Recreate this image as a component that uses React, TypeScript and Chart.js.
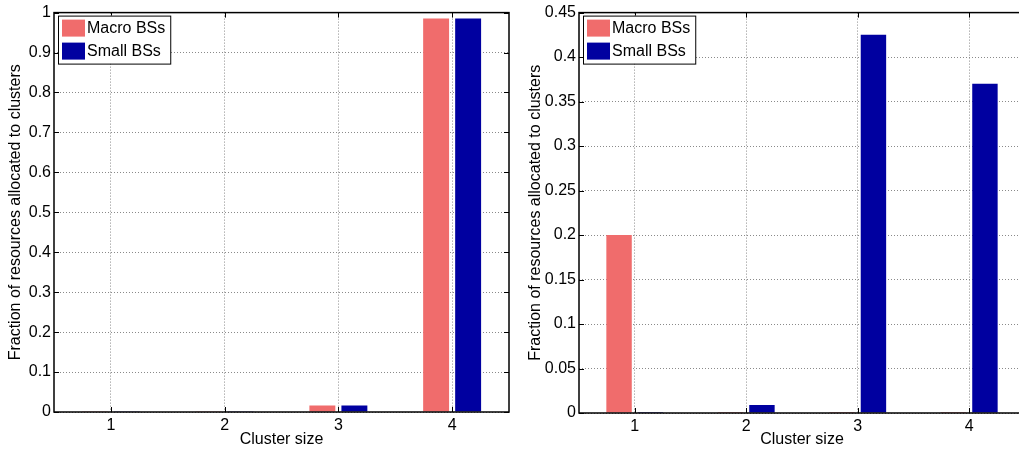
import React, { useEffect, useRef } from 'react';
import { Chart, registerables } from 'chart.js';

Chart.register(...registerables);

const FONT = "'Liberation Sans', Arial, Helvetica, sans-serif";

// ---- data ----
const clusterSizes = ['1', '2', '3', '4'];
const seriesNames = ['Macro BSs', 'Small BSs'];
const seriesColors = ['#F06C6C', '#0000A0'];

const leftMacro = [0.002, 0.002, 0.016, 0.985];
const leftSmall = [0.002, 0.002, 0.016, 0.985];
const leftYMax = 1;
const leftYStep = 0.1;

const rightMacro = [0.2, 0.001, 0.001, 0.001];
const rightSmall = [0.001, 0.009, 0.425, 0.37];
const rightYMax = 0.45;
const rightYStep = 0.05;

const yTitle = 'Fraction of resources allocated to clusters';
const xTitle = 'Cluster size';

const GRID = '#8a8a8a';

const boxPlugin = {
  id: 'matlabBox',
  afterDraw(chart: any) {
    const { ctx, chartArea: a, scales } = chart;
    ctx.save();
    // inward ticks
    ctx.strokeStyle = '#000';
    ctx.lineWidth = 1;
    const ys = scales.y;
    ys.ticks.forEach((t: any) => {
      const y = Math.round(ys.getPixelForValue(t.value)) + 0.5;
      ctx.beginPath();
      ctx.moveTo(a.left, y);
      ctx.lineTo(a.left + 5, y);
      ctx.moveTo(a.right - 5, y);
      ctx.lineTo(a.right, y);
      ctx.stroke();
    });
    const xs = scales.x;
    xs.ticks.forEach((_t: any, i: number) => {
      const x = Math.round(xs.getPixelForTick(i)) + 0.5;
      ctx.beginPath();
      ctx.moveTo(x, a.bottom);
      ctx.lineTo(x, a.bottom - 5);
      ctx.moveTo(x, a.top);
      ctx.lineTo(x, a.top + 5);
      ctx.stroke();
    });
    // box
    ctx.lineWidth = 1.5;
    ctx.strokeRect(a.left, a.top, a.right - a.left, a.bottom - a.top);

    // legend
    ctx.font = `16px ${FONT}`;
    const ds = chart.data.datasets;
    let tw = 0;
    ds.forEach((d: any) => {
      tw = Math.max(tw, ctx.measureText(d.label).width);
    });
    const bx = a.left + 4;
    const by = a.top + 3;
    const bw = 4 + 23 + 2 + tw + 5;
    const bh = 48;
    ctx.fillStyle = '#fff';
    ctx.fillRect(bx, by, bw, bh);
    ctx.lineWidth = 1;
    ctx.strokeStyle = '#000';
    ctx.strokeRect(bx + 0.5, by + 0.5, bw, bh);
    ds.forEach((d: any, i: number) => {
      const sy = by + 4 + i * 23;
      ctx.fillStyle = d.backgroundColor;
      ctx.fillRect(bx + 4, sy, 23, 17);
      ctx.fillStyle = '#000';
      ctx.textBaseline = 'middle';
      ctx.textAlign = 'left';
      ctx.fillText(d.label, bx + 4 + 23 + 2, sy + 9);
    });
    ctx.restore();
  },
};

type PanelProps = {
  left: number;
  width: number;
  yAxisWidth: number;
  xAxisHeight: number;
  padRight: number;
  macro: number[];
  small: number[];
  yMax: number;
  yStep: number;
};

function Panel(p: PanelProps) {
  const ref = useRef<HTMLCanvasElement | null>(null);
  useEffect(() => {
    if (!ref.current) return;
    const font = { family: FONT, size: 16 };
    const chart = new Chart(ref.current, {
      type: 'bar',
      data: {
        labels: clusterSizes,
        datasets: [
          {
            label: seriesNames[0],
            data: p.macro,
            backgroundColor: seriesColors[0],
            categoryPercentage: 0.563,
            barPercentage: 0.81,
          },
          {
            label: seriesNames[1],
            data: p.small,
            backgroundColor: seriesColors[1],
            categoryPercentage: 0.563,
            barPercentage: 0.81,
          },
        ],
      },
      options: {
        animation: false,
        responsive: false,
        maintainAspectRatio: false,
        layout: { padding: { top: 10, right: p.padRight, left: 0, bottom: 0 } },
        plugins: { legend: { display: false }, tooltip: { enabled: false } },
        scales: {
          x: {
            type: 'category',
            offset: true,
            grid: { offset: false, color: GRID, drawTicks: false, lineWidth: 1 },
            border: { display: false, dash: [1, 2] },
            ticks: { font, color: '#000', padding: 4 },
            title: { display: true, text: xTitle, font, color: '#000', padding: { top: 0, bottom: 4 } },
            afterFit: (s: any) => {
              s.height = p.xAxisHeight;
            },
          },
          y: {
            min: 0,
            max: p.yMax,
            grid: { color: GRID, drawTicks: false, lineWidth: 1 },
            border: { display: false, dash: [1, 2] },
            ticks: {
              stepSize: p.yStep,
              font,
              color: '#000',
              padding: 3,
              callback: (v: any) => String(Number(Number(v).toFixed(2))),
            },
            title: { display: true, text: yTitle, font, color: '#000', padding: { top: 6, bottom: 0 } },
            afterFit: (s: any) => {
              s.width = p.yAxisWidth;
            },
          },
        },
      },
      plugins: [boxPlugin],
    } as any);
    return () => chart.destroy();
  }, []);
  return (
    <canvas
      ref={ref}
      width={p.width}
      height={453}
      style={{ position: 'absolute', left: p.left, top: 0, width: p.width, height: 453 }}
    />
  );
}

export default function App() {
  return (
    <div
      style={{
        position: 'fixed',
        left: 0,
        top: 0,
        width: 1019,
        height: 453,
        overflow: 'hidden',
        background: '#fff',
      }}
    >
      <Panel
        left={0}
        width={520}
        yAxisWidth={54}
        xAxisHeight={41}
        padRight={11}
        macro={leftMacro}
        small={leftSmall}
        yMax={leftYMax}
        yStep={leftYStep}
      />
      <Panel
        left={520}
        width={515}
        yAxisWidth={59}
        xAxisHeight={40}
        padRight={10}
        macro={rightMacro}
        small={rightSmall}
        yMax={rightYMax}
        yStep={rightYStep}
      />
    </div>
  );
}
